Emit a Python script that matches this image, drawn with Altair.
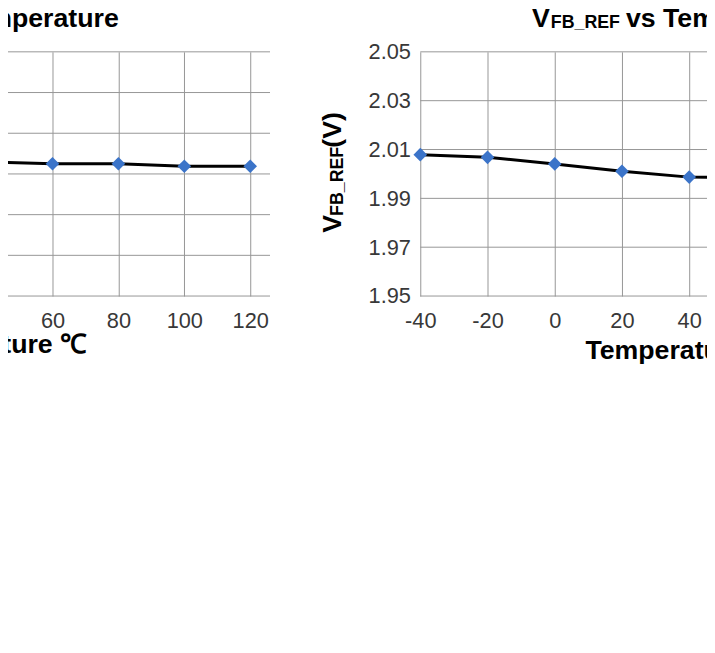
import altair as alt
import pandas as pd

# ---------------- data ----------------
# Left panel (only its right part is visible; its y scale is off-page, so values are in grid units)
left_temp = [40, 60, 80, 100, 120]
left_val = [3.30, 3.25, 3.25, 3.19, 3.19]
left_grid_vals = [0, 1, 2, 3, 4, 5, 6]
left_x_ticks = [40, 60, 80, 100, 120]
left_x_dom = [40, 126]

# Right panel: VFB_REF (V) vs temperature (°C)
right_temp = [-40, -20, 0, 20, 40, 60]
right_vfb = [2.0079, 2.0068, 2.0041, 2.0011, 1.9987, 1.9984]
right_x_ticks = [-40, -20, 0, 20, 40, 60, 80, 100, 120]
right_y_ticks = [1.95, 1.97, 1.99, 2.01, 2.03, 2.05]
right_x_dom = [-40, 120]
right_y_dom = [1.95, 2.05]

FONT = "Liberation Sans"
GRID = "#969696"
LABEL = "#383838"
BLUE = "#3b74c9"

W, H = 707, 247

L_X = alt.Scale(domain=left_x_dom, range=[-21.67, 265], nice=False, zero=False)
L_Y = alt.Scale(domain=[left_grid_vals[0], left_grid_vals[-1]], range=[H, 0], nice=False, zero=False)
R_X = alt.Scale(domain=right_x_dom, range=[417, 961], nice=False, zero=False)
R_Y = alt.Scale(domain=right_y_dom, range=[H, 0], nice=False, zero=False)


def x_axis(vals):
    return alt.Axis(orient="bottom", values=vals, grid=True, gridColor=GRID, gridWidth=1,
                    gridOpacity=1, ticks=False, domain=False, labelFont=FONT,
                    labelFontSize=22, labelColor=LABEL, labelPadding=15,
                    labelFlush=False, labelOverlap=False, title=None,
                    labelExpr="'' + datum.value")


ldf = pd.DataFrame({"t": left_temp, "v": left_val})
lgrid = pd.DataFrame({"v": left_grid_vals, "x0": left_x_dom[0], "x1": left_x_dom[1]})
rdf = pd.DataFrame({"t": right_temp, "v": right_vfb})
rgrid = pd.DataFrame({"v": right_y_ticks, "x0": right_x_dom[0], "x1": right_x_dom[1]})

lxa = x_axis(left_x_ticks)
left = alt.layer(
    alt.Chart(lgrid).mark_rule(color=GRID, strokeWidth=1).encode(
        x=alt.X("x0:Q", scale=L_X, axis=lxa), x2="x1:Q",
        y=alt.Y("v:Q", scale=L_Y, axis=None)),
    alt.Chart(ldf).mark_line(color="black", strokeWidth=3).encode(
        x=alt.X("t:Q", scale=L_X, axis=lxa), y=alt.Y("v:Q", scale=L_Y, axis=None)),
    alt.Chart(ldf).mark_point(shape="diamond", filled=True, size=190, color=BLUE, opacity=1).encode(
        x=alt.X("t:Q", scale=L_X, axis=lxa), y=alt.Y("v:Q", scale=L_Y, axis=None)),
)

rxa = x_axis(right_x_ticks)
rya = alt.Axis(orient="left", offset=-417, values=right_y_ticks, format=".2f", grid=False,
               ticks=False, domain=False, labelFont=FONT, labelFontSize=22,
               labelColor=LABEL, labelPadding=10, title=None)
right = alt.layer(
    alt.Chart(rgrid).mark_rule(color=GRID, strokeWidth=1).encode(
        x=alt.X("x0:Q", scale=R_X, axis=rxa), x2="x1:Q",
        y=alt.Y("v:Q", scale=R_Y, axis=rya)),
    alt.Chart(rdf).mark_line(color="black", strokeWidth=3).encode(
        x=alt.X("t:Q", scale=R_X, axis=rxa), y=alt.Y("v:Q", scale=R_Y, axis=rya)),
    alt.Chart(rdf).mark_point(shape="diamond", filled=True, size=190, color=BLUE, opacity=1).encode(
        x=alt.X("t:Q", scale=R_X, axis=rxa), y=alt.Y("v:Q", scale=R_Y, axis=rya)),
)

one = pd.DataFrame({"a": [0]})


def txt(s, x, y, size, align="left", angle=0, weight="bold", baseline="alphabetic"):
    return alt.Chart(one).mark_text(font=FONT, fontSize=size, fontWeight=weight, color="black",
                                    align=align, baseline=baseline, angle=angle).encode(
        x=alt.value(x), y=alt.value(y), text=alt.value(s))


texts = alt.layer(
    # left panel title and x title (mostly off-page)
    txt("Temperature", 112, -25, 27, align="right"),
    txt("Temperature ℃", 80, 305, 27, align="right"),
    # right panel title  V_FB_REF vs Temperature
    txt("V", 539, -25, 27, align="center"),
    txt("FB_REF", 584, -24, 18, align="center"),
    txt("vs Temperature", 625, -25, 27, align="left"),
    # right x title
    txt("Temperature ℃", 584, 311, 27, align="left"),
    # right y title  V_FB_REF(V)
    txt("V", 337, 174, 27, align="center", angle=270),
    txt("FB_REF", 339, 131, 18, align="center", angle=270),
    txt("(V)", 337, 79, 27, align="center", angle=270),
)

chart = alt.layer(left, right, texts).resolve_scale(
    x="independent", y="independent"
).resolve_axis(
    x="independent", y="independent"
).properties(
    width=W, height=H,
    padding={"top": 42, "bottom": 120, "left": 0, "right": 0},
    autosize=alt.AutoSizeParams(type="none"),
    background="white",
).configure_view(stroke=None)

chart.save("out.html", embed_options={"renderer": "svg", "actions": False})
